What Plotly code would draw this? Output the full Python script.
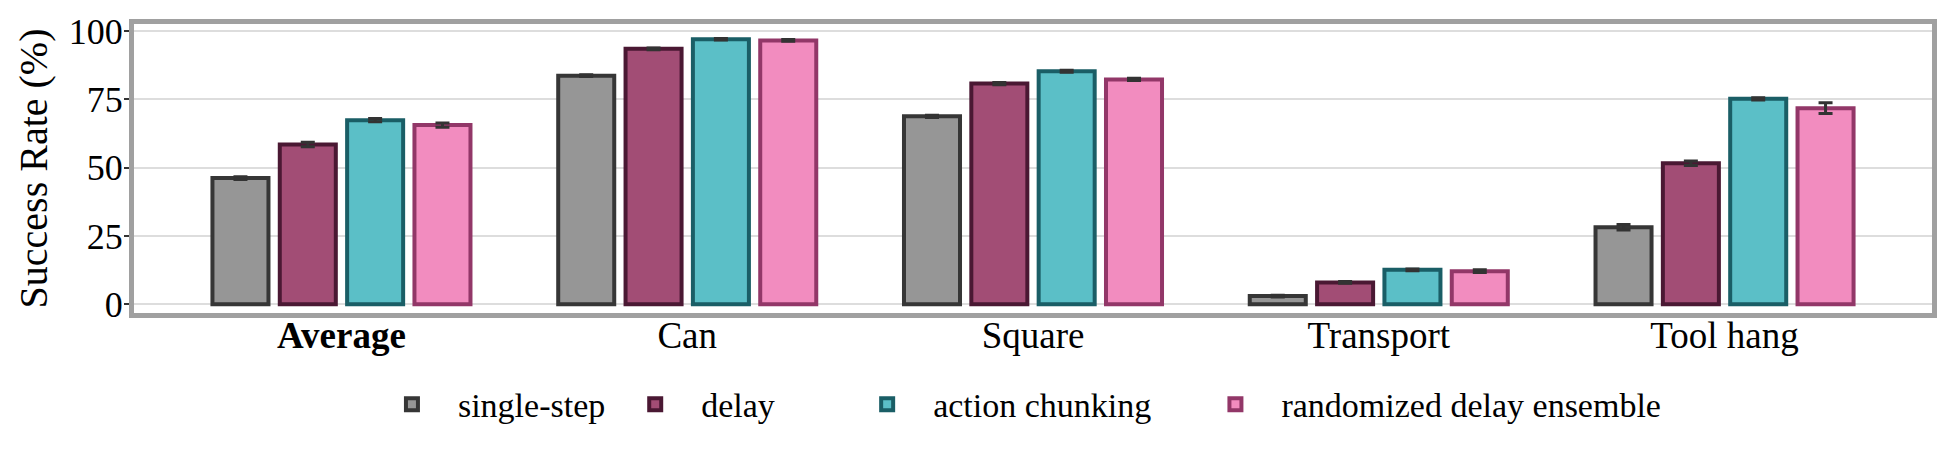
import plotly.graph_objects as go

# data
tasks = ["Average", "Can", "Square", "Transport", "Tool hang"]
tick_labels = ["<b>Average</b>", "Can", "Square", "Transport", "Tool hang"]
methods = ["single-step", "delay", "action chunking", "randomized delay ensemble"]

single_step = [46.2, 83.7, 68.8, 3.0, 28.2]
delay = [58.5, 93.5, 80.8, 8.0, 51.6]
action_chunking = [67.4, 97.0, 85.3, 12.6, 75.2]
randomized_delay_ensemble = [65.6, 96.6, 82.3, 12.1, 71.8]

single_step_err = [0.5, 0.3, 0.4, 0.3, 1.0]
delay_err = [0.8, 0.3, 0.4, 0.3, 0.8]
action_chunking_err = [0.6, 0.3, 0.4, 0.3, 0.4]
randomized_delay_ensemble_err = [0.8, 0.3, 0.4, 0.5, 2.0]

values = [single_step, delay, action_chunking, randomized_delay_ensemble]
errors = [single_step_err, delay_err, action_chunking_err, randomized_delay_ensemble_err]

fill_colors = ["#969696", "#a24d75", "#5bbfc7", "#f28cbf"]
edge_colors = ["#363636", "#4a1833", "#1a5e66", "#923768"]

FONT = "'Liberation Serif', 'Times New Roman', 'DejaVu Serif', serif"

# one legend per method so each entry sits where the reference puts it
legend_ids = ["legend", "legend2", "legend3", "legend4"]
legend_x = [0.1290, 0.2643, 0.3933, 0.5870]

fig = go.Figure()
for name, vals, errs, fc, ec, lg in zip(methods, values, errors, fill_colors, edge_colors, legend_ids):
    fig.add_trace(go.Bar(
        x=tasks, y=vals, name=name, legend=lg,
        marker=dict(color=fc, line=dict(color=ec, width=4)),
        error_y=dict(type="data", array=errs, color="#333333", thickness=3, width=7),
    ))

legend_style = dict(
    orientation="h", xanchor="left", y=-0.317, yanchor="middle",
    font=dict(family=FONT, size=34, color="black"),
    itemwidth=82, bgcolor="rgba(0,0,0,0)",
)

fig.update_layout(
    barmode="group",
    bargap=0.221,
    bargroupgap=0.168,
    width=1949, height=452,
    margin=dict(l=134, r=16, t=20, b=139),
    plot_bgcolor="white",
    paper_bgcolor="white",
    font=dict(family=FONT, size=36, color="black"),
    showlegend=True,
    **{lg: dict(legend_style, x=lx) for lg, lx in zip(legend_ids, legend_x)},
)

fig.update_xaxes(
    type="category",
    range=[-0.6, 4.6],
    tickvals=tasks, ticktext=tick_labels,
    ticks="", ticklen=0, showgrid=False,
    showline=True, mirror=True, linecolor="#a0a0a0", linewidth=5,
    tickfont=dict(family=FONT, size=37, color="black"),
    ticklabelstandoff=-14,
)
fig.update_yaxes(
    range=[-3.2, 102.6],
    tickvals=[0, 25, 50, 75, 100],
    ticks="outside", ticklen=5, tickwidth=2, tickcolor="#333333",
    showgrid=True, gridcolor="#dddddd", gridwidth=2, zeroline=False,
    showline=True, mirror=True, linecolor="#a0a0a0", linewidth=5,
    tickfont=dict(family=FONT, size=36, color="black"),
    ticklabelstandoff=-6,
    title=dict(text="Success Rate (%)", font=dict(family=FONT, size=40, color="black"), standoff=10),
)

# drop the browser's default body margin so the figure sits at the page origin
fig.write_html(
    "out.html",
    config={"displayModeBar": False},
    post_script="document.body.style.margin='0';",
)
